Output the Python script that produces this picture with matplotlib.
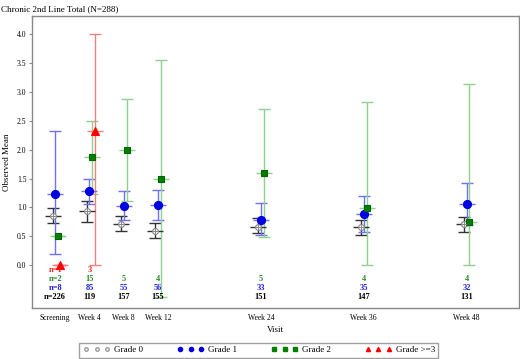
import matplotlib
matplotlib.use("Agg")
import matplotlib.pyplot as plt
from matplotlib.lines import Line2D
import numpy as np

plt.rcParams['font.family'] = ['Liberation Serif', 'DejaVu Serif']

# visits (weeks) and labels
visit_week = [0, 4, 8, 12, 24, 36, 48]
visit_labels = ['Screening', 'Week 4', 'Week 8', 'Week 12', 'Week 24', 'Week 36', 'Week 48']

# Grade 0
g0_mean = [0.85, 0.94, 0.72, 0.60, 0.67, 0.66, 0.71]
g0_low = [0.73, 0.75, 0.59, 0.48, 0.56, 0.53, 0.57]
g0_up = [0.99, 1.11, 0.86, 0.73, 0.82, 0.79, 0.84]
g0_n = [226, 119, 157, 155, 151, 147, 131]

# Grade 1
g1_mean = [1.24, 1.28, 1.03, 1.05, 0.78, 0.88, 1.06]
g1_low = [0.19, 1.06, 0.79, 0.79, 0.52, 0.57, 0.70]
g1_up = [2.33, 1.50, 1.28, 1.30, 1.08, 1.19, 1.42]
g1_n = [8, 85, 55, 56, 33, 35, 32]

# Grade 2
g2_mean = [0.50, 1.87, 2.00, 1.50, 1.59, 0.99, 0.75]
g2_low = [0.50, 1.24, 1.12, -0.55, 0.49, 0.01, 0.00]
g2_up = [0.50, 2.49, 2.87, 3.55, 2.70, 2.82, 3.14]
g2_n = [2, 15, 5, 4, 5, 4, 4]

# Grade >=3 (only screening and week 4)
g3_week = [0, 4]
g3_mean = [0.00, 2.33]
g3_low = [0.00, 0.00]
g3_up = [0.00, 4.00]
g3_n = [1, 3]

fig = plt.figure(figsize=(5.2, 3.59), dpi=100)
ax = fig.add_axes([0.0615, 0.142, 0.9365, 0.813])

def draw(weeks, mean, low, up, shift, bar_col, mk_col, marker, ms, face):
    x = np.array(weeks) + shift
    m = np.array(mean)
    err = [m - np.array(low), np.array(up) - m]
    ax.errorbar(x, m, yerr=err, fmt='none', ecolor=bar_col, elinewidth=1,
                capsize=4.5, capthick=1, zorder=2)
    ax.plot(x, m, linestyle='none', marker='_', markersize=11, color=bar_col,
            markeredgewidth=1, zorder=3)
    ax.plot(x, m, linestyle='none', marker=marker, markersize=ms,
            markerfacecolor=face, markeredgecolor=mk_col, markeredgewidth=0.8, zorder=4)

draw(visit_week, g0_mean, g0_low, g0_up, -0.3, '#333333', '#888888', 'o', 4.2, 'white')
ax.plot(np.array(visit_week) - 0.3, g0_mean, linestyle='none', marker='+', markersize=4.2,
        color='#888888', markeredgewidth=0.7, zorder=5)
draw(visit_week, g1_mean, g1_low, g1_up, 0.0, '#7070ff', '#0000e0', 'o', 5.8, '#0000e0')
draw(visit_week, g2_mean, g2_low, g2_up, 0.33, '#8ed08e', '#006400', 's', 5, '#008000')
draw(g3_week, g3_mean, g3_low, g3_up, 0.6, '#f08080', '#ff0000', '^', 5.5, '#ff0000')

# counts under the bars
for i, w in enumerate(visit_week):
    pre = 'n=' if i == 0 else ''
    ax.text(w, -0.55, pre + str(g0_n[i]), color='black', ha='center', va='center',
            fontsize=6, fontweight='bold')
    ax.text(w, -0.39, pre + str(g1_n[i]), color='#2020e0', ha='center', va='center',
            fontsize=6, fontweight='bold')
    ax.text(w, -0.23, pre + str(g2_n[i]), color='#2a8a2a', ha='center', va='center',
            fontsize=6, fontweight='bold')
for i, w in enumerate(g3_week):
    pre = 'n=' if i == 0 else ''
    ax.text(w, -0.09, pre + str(g3_n[i]), color='#ff2020', ha='center', va='center',
            fontsize=6, fontweight='bold')

ax.set_xlim(-2.7, 54.1)
ax.set_ylim(-0.74, 4.31)
ax.set_xticks(visit_week)
ax.set_xticklabels(visit_labels, fontsize=5.5)
ax.set_yticks(np.arange(0, 4.01, 0.5))
ax.set_yticklabels(['%.1f' % v for v in np.arange(0, 4.01, 0.5)], fontsize=5.5)
ax.tick_params(axis='x', length=0, pad=4)
ax.tick_params(axis='y', length=2, color='#888888', pad=2)
for s in ax.spines.values():
    s.set_color('#888888')
    s.set_linewidth(1)

ax.set_xlabel('Visit', fontsize=6.5, labelpad=3)
ax.set_ylabel('Observed Mean', fontsize=6.5, labelpad=4)
fig.text(0.002, 0.985, 'Chronic 2nd Line Total (N=288)', fontsize=6.5, ha='left', va='top')

handles = [
    Line2D([], [], linestyle='none', marker='o', markersize=2.5, markerfacecolor='none',
           markeredgecolor='#999999', label='Grade 0'),
    Line2D([], [], linestyle='none', marker='o', markersize=3, color='#0000e0', label='Grade 1'),
    Line2D([], [], linestyle='none', marker='s', markersize=3, color='#008000', label='Grade 2'),
    Line2D([], [], linestyle='none', marker='^', markersize=3, color='#ff0000', label='Grade >=3'),
]
fig.legend(handles=handles, loc='lower center', bbox_to_anchor=(0.498, -0.01), ncol=4,
           numpoints=3, fontsize=6.5, frameon=True, fancybox=False, edgecolor='#888888',
           handlelength=3, handletextpad=0.4, columnspacing=3.8, borderpad=0.4)

fig.savefig('out.png', dpi=100)
